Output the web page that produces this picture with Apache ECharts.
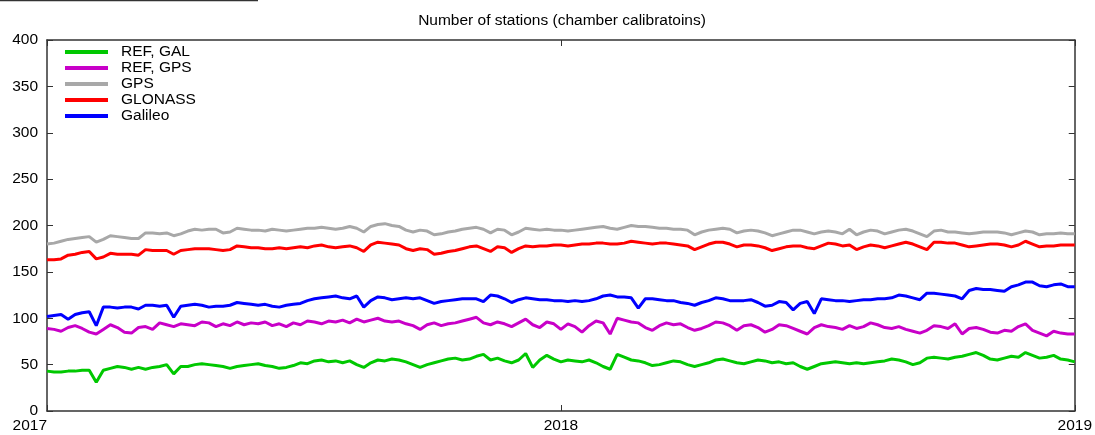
<!DOCTYPE html>
<html>
<head>
<meta charset="utf-8">
<script src="https://cdn.jsdelivr.net/npm/echarts@6/dist/echarts.min.js"></script>
<style>
  html, body { margin: 0; padding: 0; background: #fff; }
  #chart { width: 1095px; height: 435px; }
</style>
</head>
<body>
<div id="chart"></div>
<script>
// days since 2017-01-01, sampled every 5 days
const days = []
for (let d = 0; d <= 730; d += 5) days.push(d)

const yearTicks = { 0: '2017', 365: '2018', 730: '2019' }

const gps = [
  180, 181, 183, 185, 186, 187, 188, 182, 185, 189,
  188, 187, 186, 186, 192, 192, 191, 192, 189, 191,
  194, 196, 195, 196, 196, 192, 193, 197, 196, 195,
  195, 194, 196, 195, 194, 195, 196, 197, 197, 198,
  197, 196, 197, 199, 197, 193, 199, 201, 202, 200,
  199, 195, 193, 195, 194, 190, 191, 193, 194, 196,
  197, 198, 196, 192, 196, 195, 190, 193, 197, 196,
  195, 196, 195, 195, 194, 195, 196, 197, 198, 199,
  197, 196, 198, 200, 199, 199, 198, 197, 197, 196,
  196, 195, 190, 193, 195, 196, 197, 196, 192, 194,
  195, 194, 192, 189, 191, 193, 195, 195, 193, 191,
  193, 194, 193, 191, 196, 190, 193, 195, 194, 191,
  193, 195, 196, 194, 191, 188, 194, 195, 193, 193,
  192, 191, 192, 193, 193, 193, 192, 190, 192, 194,
  193, 190, 191, 191, 192, 191, 191
]

const glonass = [
  163, 163, 164, 168, 169, 171, 172, 164, 166, 170,
  169, 169, 169, 168, 174, 173, 173, 173, 169, 173,
  174, 175, 175, 175, 174, 173, 174, 178, 177, 176,
  176, 175, 175, 176, 175, 176, 177, 176, 178, 179,
  177, 176, 177, 178, 176, 172, 179, 182, 181, 180,
  179, 175, 173, 175, 174, 169, 170, 172, 173, 175,
  177, 178, 175, 172, 177, 176, 171, 175, 178, 177,
  178, 178, 179, 179, 178, 179, 180, 180, 181, 181,
  180, 180, 181, 183, 182, 181, 180, 181, 181, 180,
  179, 178, 174, 177, 180, 182, 182, 180, 177, 179,
  179, 178, 176, 173, 175, 177, 178, 178, 176, 175,
  178, 181, 180, 178, 179, 174, 177, 179, 178, 176,
  178, 180, 182, 180, 177, 174, 182, 182, 181, 181,
  179, 177, 178, 179, 180, 180, 179, 177, 179, 183,
  180, 177, 178, 178, 179, 179, 179
]

const galileo = [
  102, 103, 104, 99, 104, 106, 107, 92, 112, 112,
  111, 112, 112, 110, 114, 114, 113, 114, 101, 113,
  114, 115, 114, 112, 113, 113, 114, 117, 116, 115,
  114, 115, 113, 112, 114, 115, 116, 119, 121, 122,
  123, 124, 122, 121, 124, 112, 119, 123, 122, 120,
  121, 122, 121, 122, 119, 116, 118, 119, 120, 121,
  121, 121, 118, 125, 124, 121, 117, 120, 122, 121,
  120, 120, 119, 119, 118, 119, 118, 119, 121, 124,
  125, 123, 123, 122, 111, 121, 121, 120, 119, 119,
  117, 116, 114, 117, 119, 122, 121, 119, 119, 119,
  120, 117, 113, 114, 118, 117, 109, 116, 118, 105,
  121, 120, 119, 119, 118, 119, 120, 120, 121, 121,
  122, 125, 124, 122, 120, 127, 127, 126, 125, 124,
  121, 130, 132, 131, 131, 130, 129, 134, 136, 139,
  139, 135, 134, 136, 137, 134, 134
]

const refGps = [
  89, 88, 86, 90, 92, 89, 85, 83, 88, 93,
  90, 85, 84, 90, 91, 88, 95, 93, 91, 94,
  93, 92, 96, 95, 91, 94, 92, 96, 93, 95,
  94, 96, 92, 94, 91, 95, 93, 97, 96, 94,
  97, 96, 98, 95, 99, 96, 98, 100, 97, 96,
  97, 94, 92, 88, 93, 95, 92, 94, 95, 97,
  99, 101, 95, 93, 96, 94, 91, 95, 99, 93,
  90, 96, 94, 88, 94, 91, 85, 92, 97, 95,
  83, 100, 98, 96, 95, 90, 87, 92, 95, 93,
  94, 90, 87, 89, 92, 96, 95, 92, 87, 92,
  93, 90, 85, 88, 93, 92, 89, 86, 83, 90,
  93, 91, 90, 88, 92, 89, 91, 95, 93, 90,
  89, 91, 88, 86, 84, 87, 92, 91, 89, 94,
  83, 89, 90, 88, 85, 84, 87, 86, 91, 94,
  87, 84, 81, 86, 84, 83, 83
]

const refGal = [
  43, 42, 42, 43, 43, 44, 44, 31, 44, 46,
  48, 47, 45, 47, 45, 47, 48, 50, 40, 48,
  48, 50, 51, 50, 49, 48, 46, 48, 49, 50,
  51, 49, 48, 46, 47, 49, 52, 51, 54, 55,
  53, 54, 52, 54, 50, 47, 52, 55, 54, 56,
  55, 53, 50, 47, 50, 52, 54, 56, 57, 55,
  56, 59, 61, 55, 57, 54, 52, 55, 62, 47,
  55, 60, 56, 53, 55, 54, 53, 55, 52, 48,
  45, 61, 58, 55, 54, 52, 49, 50, 52, 54,
  53, 50, 48, 50, 52, 55, 56, 54, 52, 51,
  53, 55, 54, 52, 53, 51, 52, 48, 45, 48,
  51, 52, 53, 52, 51, 52, 51, 52, 53, 54,
  56, 55, 53, 50, 52, 57, 58, 57, 56, 58,
  59, 61, 63, 60, 56, 55, 57, 59, 58, 63,
  60, 57, 58, 60, 56, 55, 53
]

const seriesNames = ['REF, GAL', 'REF, GPS', 'GPS', 'GLONASS', 'Galileo']
const seriesColors = ['#00c800', '#c800c8', '#a8a8a8', '#ff0000', '#0000ff']
const seriesValues = [refGal, refGps, gps, glonass, galileo]

const chart = echarts.init(document.getElementById('chart'))

function frameAxis(extra) {
  return Object.assign({
    axisLine: { show: true, onZero: false, lineStyle: { color: '#333', width: 1.5 } },
    axisTick: { show: true, inside: true, length: 6, lineStyle: { color: '#333', width: 1 } },
    splitLine: { show: false }
  }, extra)
}

const option = {
  animation: false,
  backgroundColor: '#fff',
  textStyle: { fontFamily: 'Liberation Sans, Arial, sans-serif' },
  title: {
    text: 'Number of stations (chamber calibratoins)',
    left: 557,
    top: 8,
    textAlign: 'center',
    textStyle: { fontSize: 15.5, fontWeight: 'normal', color: '#000', fontFamily: 'Liberation Sans' }
  },
  legend: {
    orient: 'vertical',
    left: 60,
    top: 39,
    icon: 'rect',
    itemWidth: 43,
    itemHeight: 4,
    itemGap: 0,
    textStyle: { fontSize: 15.5, color: '#000', lineHeight: 15.6, padding: [0, 0, 0, 8] },
    data: seriesNames
  },
  grid: { left: 47, right: 16, top: 40, bottom: 24 },
  xAxis: [
    frameAxis({
      type: 'value', min: 0, max: 730, interval: 365, position: 'bottom',
      axisLabel: {
        fontSize: 15.5, color: '#000', margin: 7,
        alignMinLabel: 'right',
        formatter: v => yearTicks[v] || ''
      }
    }),
    frameAxis({
      type: 'value', min: 0, max: 730, interval: 365, position: 'top',
      axisLabel: { show: false }
    })
  ],
  yAxis: [
    frameAxis({
      type: 'value', min: 0, max: 400, interval: 50, position: 'left',
      axisLabel: { fontSize: 15.5, color: '#000', margin: 9 }
    }),
    frameAxis({
      type: 'value', min: 0, max: 400, interval: 50, position: 'right',
      axisLabel: { show: false }
    })
  ],
  graphic: [
    {
      type: 'line',
      shape: { x1: 0, y1: 0.5, x2: 258, y2: 0.5 },
      style: { stroke: '#333', lineWidth: 1.5 }
    }
  ],
  series: seriesNames.map((name, k) => ({
    name: name,
    type: 'line',
    showSymbol: false,
    symbol: 'none',
    color: seriesColors[k],
    lineStyle: { width: 3, color: seriesColors[k] },
    data: days.map((d, i) => [d, seriesValues[k][i]])
  }))
}

chart.setOption(option)
</script>
</body>
</html>
